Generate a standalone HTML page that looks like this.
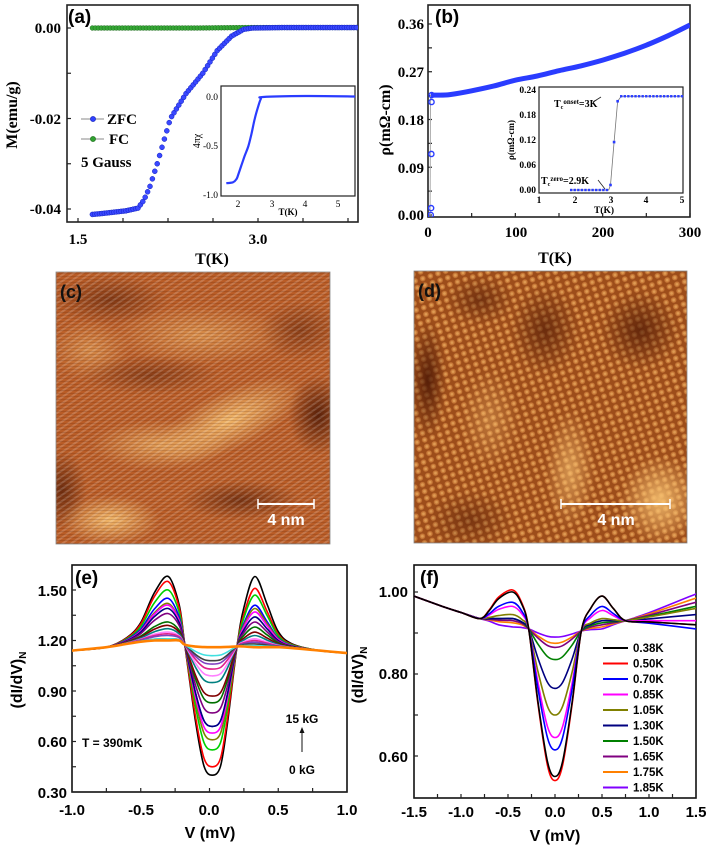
<!DOCTYPE html>
<html><head><meta charset="utf-8"><style>
html,body{margin:0;padding:0;background:#fff;}
svg{display:block;}
.ser{font-family:"Liberation Serif",serif;font-weight:bold;}
.san{font-family:"Liberation Sans",sans-serif;font-weight:bold;}
</style></head><body>
<svg id="fig" width="709" height="847" viewBox="0 0 709 847" xmlns="http://www.w3.org/2000/svg">
<defs>
 <clipPath id="clipA"><rect x="67" y="5" width="291" height="217"/></clipPath>
 <clipPath id="clipAi"><rect x="221" y="86" width="134" height="110"/></clipPath>
 <clipPath id="clipB"><rect x="428" y="5" width="262" height="212"/></clipPath>
 <clipPath id="clipE"><rect x="72" y="565" width="275" height="227"/></clipPath>
 <clipPath id="clipF"><rect x="414" y="565" width="282" height="233"/></clipPath>
 <clipPath id="clipC"><rect x="56" y="272" width="274" height="272"/></clipPath>
 <clipPath id="clipD"><rect x="414" y="271" width="273" height="272"/></clipPath>
 <pattern id="stripes" width="5" height="5" patternUnits="userSpaceOnUse" patternTransform="rotate(-35)">
  <rect width="5" height="2" fill="#fff" opacity="0.18"/>
 </pattern>
 <pattern id="hlines" width="4" height="3" patternUnits="userSpaceOnUse">
  <rect width="4" height="1" fill="#5a2008" opacity="0.18"/>
 </pattern>
 <pattern id="lattice" width="8" height="7" patternUnits="userSpaceOnUse" patternTransform="rotate(-18)">
  <rect width="8" height="7" fill="#6a2a08" opacity="0.4"/>
  <circle cx="4" cy="3.5" r="2.8" fill="#e89a50" opacity="0.55"/>
  <circle cx="4" cy="3.5" r="1.4" fill="#f6c070" opacity="0.5"/>
 </pattern>
 <radialGradient id="bright"><stop offset="0" stop-color="#f6c070" stop-opacity="0.9"/><stop offset="1" stop-color="#f6c070" stop-opacity="0"/></radialGradient>
 <radialGradient id="dark"><stop offset="0" stop-color="#4a1604" stop-opacity="0.85"/><stop offset="1" stop-color="#4a1604" stop-opacity="0"/></radialGradient>
</defs>

<!-- Panel (a) static -->
<g>
 <rect x="67" y="5" width="291" height="217" fill="none" stroke="#222" stroke-width="1.6"/>
 <text x="68" y="23" class="san" font-size="19">(a)</text>
 <g class="ser" font-size="15" text-anchor="end">
  <text x="61" y="33">0.00</text><text x="61" y="124">-0.02</text><text x="61" y="214">-0.04</text>
 </g>
 <g class="ser" font-size="15" text-anchor="middle">
  <text x="78" y="244">1.5</text><text x="258" y="244">3.0</text>
 </g>
 <text x="212" y="264" class="ser" font-size="16" text-anchor="middle">T(K)</text>
 <text transform="translate(17,115) rotate(-90)" class="ser" font-size="16" text-anchor="middle">M(emu/g)</text>
 <g>
  <line x1="81" y1="119" x2="104" y2="119" stroke="#888" stroke-width="1"/><circle cx="93" cy="119" r="2.6" fill="#3040ff" stroke="#1020b0" stroke-width="0.6"/>
  <text x="107" y="124" class="ser" font-size="15">ZFC</text>
  <line x1="81" y1="139" x2="104" y2="139" stroke="#888" stroke-width="1"/><circle cx="93" cy="139" r="2.6" fill="#30a030" stroke="#1a6a1a" stroke-width="0.6"/>
  <text x="109" y="144" class="ser" font-size="15">FC</text>
  <text x="81" y="167" class="ser" font-size="15">5 Gauss</text>
 </g>
 <rect x="221" y="86" width="134" height="110" fill="#fff" stroke="#222" stroke-width="1.2"/>
 <g font-family="Liberation Serif,serif" font-size="9.5" text-anchor="end">
  <text x="218" y="100">0.0</text><text x="218" y="149">-0.5</text><text x="218" y="198">-1.0</text>
 </g>
 <g font-family="Liberation Serif,serif" font-size="9.5" text-anchor="middle">
  <text x="238" y="207">2</text><text x="272" y="207">3</text><text x="305" y="207">4</text><text x="338" y="207">5</text>
 </g>
 <text x="288" y="215" class="ser" font-size="9" text-anchor="middle">T(K)</text>
 <text transform="translate(200,141) rotate(-90)" font-family="Liberation Serif,serif" font-size="10" text-anchor="middle">4πχ</text>
</g>

<!-- Panel (b) static -->
<g>
 <rect x="428" y="5" width="262" height="212" fill="none" stroke="#222" stroke-width="1.6"/>
 <text x="435" y="23" class="san" font-size="19">(b)</text>
 <g class="ser" font-size="15" text-anchor="end">
  <text x="424" y="29">0.36</text><text x="424" y="77">0.27</text><text x="424" y="125">0.18</text><text x="424" y="173">0.09</text><text x="424" y="220">0.00</text>
 </g>
 <g class="ser" font-size="15" text-anchor="middle">
  <text x="428" y="237">0</text><text x="516" y="237">100</text><text x="603" y="237">200</text><text x="690" y="237">300</text>
 </g>
 <text x="555" y="263" class="ser" font-size="16" text-anchor="middle">T(K)</text>
 <text transform="translate(390,120) rotate(-90)" class="ser" font-size="16" text-anchor="middle">ρ(mΩ-cm)</text>
 <rect x="539" y="87" width="144" height="106" fill="#fff" stroke="#222" stroke-width="1.2"/>
 <g class="ser" font-size="9.5" text-anchor="end">
  <text x="536" y="93">0.24</text><text x="536" y="118">0.18</text><text x="536" y="143">0.12</text><text x="536" y="168">0.06</text><text x="536" y="193">0.00</text>
 </g>
 <g class="ser" font-size="9.5" text-anchor="middle">
  <text x="539" y="203">1</text><text x="575" y="203">2</text><text x="611" y="203">3</text><text x="646" y="203">4</text><text x="682" y="203">5</text>
 </g>
 <text x="604" y="213" class="ser" font-size="9.5" text-anchor="middle">T(K)</text>
 <text transform="translate(514,140) rotate(-90)" class="ser" font-size="9" text-anchor="middle">ρ(mΩ-cm)</text>
 <text x="554" y="107" class="ser" font-size="10">T<tspan font-size="6" dy="2">c</tspan><tspan font-size="7" dy="-5">onset</tspan><tspan dy="3">=3K</tspan></text>
 <line x1="593" y1="102" x2="601" y2="97" stroke="#222" stroke-width="0.8"/>
 <text x="541" y="184" class="ser" font-size="10">T<tspan font-size="6" dy="2">c</tspan><tspan font-size="7" dy="-5">zero</tspan><tspan dy="3">=2.9K</tspan></text>
 <line x1="598" y1="180" x2="605" y2="189" stroke="#222" stroke-width="0.8"/>
</g>

<!-- Panel (c) STM -->
<g>
 <g clip-path="url(#clipC)">
 <rect x="56" y="272" width="274" height="272" fill="#b95c26"/>
 <ellipse cx="110" cy="300" rx="60" ry="25" fill="url(#dark)" opacity="0.6"/>
 <ellipse cx="200" cy="335" rx="90" ry="30" fill="url(#bright)" opacity="0.55"/>
 <ellipse cx="90" cy="350" rx="40" ry="30" fill="url(#bright)" opacity="0.5"/>
 <ellipse cx="230" cy="420" rx="80" ry="30" fill="url(#bright)" transform="rotate(-25 230 420)"/>
 <ellipse cx="160" cy="445" rx="70" ry="25" fill="url(#bright)" opacity="0.7"/>
 <ellipse cx="318" cy="415" rx="30" ry="40" fill="url(#dark)"/>
 <ellipse cx="62" cy="490" rx="25" ry="40" fill="url(#dark)" opacity="0.8"/>
 <ellipse cx="150" cy="375" rx="70" ry="20" fill="url(#dark)" opacity="0.5"/>
 <ellipse cx="110" cy="520" rx="50" ry="25" fill="url(#bright)"/>
 <ellipse cx="240" cy="500" rx="60" ry="20" fill="url(#dark)" opacity="0.7"/>
 <ellipse cx="300" cy="330" rx="40" ry="30" fill="url(#dark)" opacity="0.5"/>
 <rect x="56" y="272" width="274" height="272" fill="url(#stripes)"/>
 <rect x="56" y="272" width="274" height="272" fill="url(#hlines)"/>
 </g>
 <rect x="56" y="272" width="274" height="272" fill="none" stroke="#888" stroke-width="0.8"/>
 <text x="60" y="298" class="san" font-size="18" fill="#111">(c)</text>
 <line x1="258" y1="504" x2="314" y2="504" stroke="#fff" stroke-width="2"/>
 <line x1="258" y1="499" x2="258" y2="509" stroke="#fff" stroke-width="1.5"/><line x1="314" y1="499" x2="314" y2="509" stroke="#fff" stroke-width="1.5"/>
 <text x="286" y="525" class="san" font-size="16" fill="#fff" text-anchor="middle">4 nm</text>
</g>

<!-- Panel (d) STM -->
<g>
 <g clip-path="url(#clipD)">
 <rect x="414" y="271" width="273" height="272" fill="#c06426"/>
 <rect x="414" y="271" width="273" height="272" fill="url(#lattice)"/>
 <ellipse cx="428" cy="380" rx="18" ry="60" fill="url(#dark)"/>
 <ellipse cx="480" cy="300" rx="35" ry="25" fill="url(#dark)" opacity="0.6"/>
 <ellipse cx="545" cy="330" rx="35" ry="45" fill="url(#dark)" opacity="0.7"/>
 <ellipse cx="640" cy="330" rx="40" ry="40" fill="url(#dark)" opacity="0.8"/>
 <ellipse cx="470" cy="520" rx="45" ry="30" fill="url(#dark)" opacity="0.5"/>
 <ellipse cx="660" cy="500" rx="40" ry="45" fill="url(#bright)"/>
 <ellipse cx="570" cy="470" rx="25" ry="60" fill="url(#bright)" opacity="0.7"/>
 <ellipse cx="490" cy="420" rx="30" ry="50" fill="url(#bright)" opacity="0.4"/>
 </g>
 <rect x="414" y="271" width="273" height="272" fill="none" stroke="#888" stroke-width="0.8"/>
 <text x="418" y="297" class="san" font-size="18" fill="#111">(d)</text>
 <line x1="561" y1="504" x2="670" y2="504" stroke="#fff" stroke-width="2"/>
 <line x1="561" y1="499" x2="561" y2="509" stroke="#fff" stroke-width="1.5"/><line x1="670" y1="499" x2="670" y2="509" stroke="#fff" stroke-width="1.5"/>
 <text x="616" y="525" class="san" font-size="16" fill="#fff" text-anchor="middle">4 nm</text>
</g>

<!-- Panel (e) static -->
<g>
 <rect x="72" y="565" width="275" height="227" fill="none" stroke="#111" stroke-width="1.6"/>
 <text x="75" y="584" class="san" font-size="19">(e)</text>
 <g class="san" font-size="15" text-anchor="end">
  <text x="67" y="596">1.50</text><text x="67" y="646">1.20</text><text x="67" y="697">0.90</text><text x="67" y="747">0.60</text><text x="67" y="798">0.30</text>
 </g>
 <g class="san" font-size="15" text-anchor="middle">
  <text x="72" y="815">-1.0</text><text x="141" y="815">-0.5</text><text x="209" y="815">0.0</text><text x="278" y="815">0.5</text><text x="347" y="815">1.0</text>
 </g>
 <text x="210" y="838" class="san" font-size="16" text-anchor="middle">V (mV)</text>
 <text transform="translate(22,680) rotate(-90)" class="san" font-size="16" text-anchor="middle">(dI/dV)<tspan font-size="10" dy="4">N</tspan></text>
 <text x="82" y="747" class="san" font-size="12">T = 390mK</text>
 <text x="302" y="723" class="san" font-size="12" text-anchor="middle">15 kG</text>
 <line x1="302" y1="752" x2="302" y2="731" stroke="#111" stroke-width="1"/>
 <polygon points="302,727 299.5,733 304.5,733" fill="#111"/>
 <text x="302" y="774" class="san" font-size="12" text-anchor="middle">0 kG</text>
</g>

<!-- Panel (f) static -->
<g>
 <rect x="414" y="565" width="282" height="233" fill="none" stroke="#111" stroke-width="1.6"/>
 <text x="420" y="584" class="san" font-size="19">(f)</text>
 <g class="san" font-size="15" text-anchor="end">
  <text x="408" y="597">1.00</text><text x="408" y="679">0.80</text><text x="408" y="762">0.60</text>
 </g>
 <g class="san" font-size="15" text-anchor="middle">
  <text x="414" y="817">-1.5</text><text x="461" y="817">-1.0</text><text x="508" y="817">-0.5</text><text x="555" y="817">0.0</text><text x="602" y="817">0.5</text><text x="649" y="817">1.0</text><text x="696" y="817">1.5</text>
 </g>
 <text x="555" y="841" class="san" font-size="16" text-anchor="middle">V (mV)</text>
 <text transform="translate(363,675) rotate(-90)" class="san" font-size="16" text-anchor="middle">(dI/dV)<tspan font-size="10" dy="4">N</tspan></text>
</g>
<g id="dyn"></g>
</svg>
<script>
// ---- Panel (a) data ----
const zfcT = [1.62,1.7,1.8,1.9,2.0,2.05,2.1,2.16,2.27,2.4,2.54,2.66,2.78,2.88,2.95,3.2,3.5,3.83];
const zfcM = [-0.0412,-0.0410,-0.0407,-0.0404,-0.0398,-0.038,-0.035,-0.030,-0.020,-0.0145,-0.010,-0.005,-0.0018,-0.0003,0,0.0001,0.0001,0.0001];
const fcT = [1.62,2.0,2.5,2.9,3.3,3.83];
const fcM = [0.0000,0.0000,0.0000,0.0001,0.0001,0.0001];
const insetT = [1.65,1.85,1.95,2.0,2.1,2.2,2.31,2.4,2.5,2.6,2.68,2.75,4.0,5.5];
const insetChi = [-0.88,-0.87,-0.84,-0.80,-0.70,-0.60,-0.50,-0.38,-0.22,-0.10,-0.02,0.0,0.01,0.005];
// ---- Panel (b) data ----
const rhoT = [2.0,2.4,2.7,2.9,3,5,10,25,50,75,100,125,150,175,200,225,250,275,300];
const rho = [0.0,0.013,0.115,0.213,0.226,0.226,0.226,0.227,0.234,0.243,0.254,0.262,0.272,0.281,0.292,0.305,0.32,0.338,0.358];
const rhoInsetT = [1.9,2.0,2.2,2.4,2.8,2.95,3.0,3.1,3.2,3.3,3.5,4.0,4.5,5.0];
const rhoInset = [0,0,0,0,0,0,0.012,0.115,0.213,0.225,0.225,0.225,0.225,0.225];
// ---- Panel (e) data: one entry per field ----
const eColors = ['#000000','#ff0000','#00d000','#0000ff','#808000','#ff00ff','#000080','#800080','#007000','#800000','#008080','#ff80ff','#e0208a','#8040c0','#404040','#40e0e0','#ff8000'];
const ePeakLeft = [1.58,1.55,1.50,1.45,1.42,1.41,1.39,1.36,1.31,1.29,1.27,1.25,1.24,1.23,1.21,1.21,1.20];
const eZeroBias = [0.40,0.45,0.55,0.69,0.61,0.65,0.69,0.77,0.83,0.87,0.95,0.99,1.03,1.06,1.08,1.11,1.16];
const ePeakRight = [1.58,1.51,1.47,1.41,1.39,1.37,1.34,1.31,1.28,1.25,1.23,1.21,1.20,1.19,1.18,1.17,1.16];
// ---- Panel (f) data: one entry per temperature ----
const fLabels = ['0.38K','0.50K','0.70K','0.85K','1.05K','1.30K','1.50K','1.65K','1.75K','1.85K'];
const fColors = ['#000000','#ff0000','#0000ff','#ff00ff','#808000','#000080','#008000','#800080','#ff8000','#8000ff'];
const fPeakLeft = [1.00,1.005,0.975,0.965,0.945,0.935,0.935,0.93,0.925,0.915];
const fZeroBias = [0.55,0.54,0.615,0.645,0.70,0.765,0.835,0.865,0.875,0.89];
const fPeakRight = [0.99,0.99,0.965,0.955,0.935,0.93,0.925,0.92,0.915,0.91];
const fEndRight = [0.92,0.92,0.91,0.93,0.96,0.945,0.965,0.975,0.985,0.995];

const NS='http://www.w3.org/2000/svg';
const root=document.getElementById('dyn');
function mk(tag,parent,attrs){const e=document.createElementNS(NS,tag);for(const k in attrs)e.setAttribute(k,attrs[k]);parent.appendChild(e);return e;}
function spline(pts){let d='M'+pts[0][0].toFixed(1)+','+pts[0][1].toFixed(1);
 for(let i=0;i<pts.length-1;i++){const p0=pts[i-1]||pts[i],p1=pts[i],p2=pts[i+1],p3=pts[i+2]||p2;
  const c1=[p1[0]+(p2[0]-p0[0])/6,p1[1]+(p2[1]-p0[1])/6],c2=[p2[0]-(p3[0]-p1[0])/6,p2[1]-(p3[1]-p1[1])/6];
  d+=' C'+c1[0].toFixed(1)+','+c1[1].toFixed(1)+' '+c2[0].toFixed(1)+','+c2[1].toFixed(1)+' '+p2[0].toFixed(1)+','+p2[1].toFixed(1);}
 return d;}
function interp(xs,ys,x){if(x<=xs[0])return ys[0];for(let i=0;i<xs.length-1;i++){if(x<=xs[i+1]){const t=(x-xs[i])/(xs[i+1]-xs[i]);return ys[i]+t*(ys[i+1]-ys[i]);}}return ys[ys.length-1];}

const xa=t=>78+(t-1.5)*120, ya=m=>28-m*4525;
const xai=t=>238+(t-2)*33.5, yai=v=>97-v*98;
const xb=t=>428+t*0.8733, yb=r=>215-r*530.6;
const xbi=t=>539+(t-1)*35.75, ybi=r=>190-r*416.7;
const xe=v=>209.5+v*137.5, ye=v=>792-(v-0.30)*168.33;
const xf=v=>555+v*94, yf=v=>592+(1-v)*410;

function ticks(parent,list,fn,axis,fixed,len){list.forEach(v=>{const p=fn(v);
 if(axis==='x')mk('line',parent,{x1:p,x2:p,y1:fixed,y2:fixed-len,stroke:'#222','stroke-width':1.2});
 else mk('line',parent,{x1:fixed,x2:fixed+len,y1:p,y2:p,stroke:'#222','stroke-width':1.2});});}
const tg=mk('g',root,{});


ticks(tg,[1.5,1.875,2.25,2.625,3.0,3.375,3.75],xa,'x',222,4);
ticks(tg,[0,-0.01,-0.02,-0.03,-0.04],ya,'y',67,4);
ticks(tg,[0,50,100,150,200,250,300],xb,'x',217,4);
ticks(tg,[0,0.045,0.09,0.135,0.18,0.225,0.27,0.315,0.36],yb,'y',428,4);
ticks(tg,[-1,-0.75,-0.5,-0.25,0,0.25,0.5,0.75,1],xe,'x',792,4);
ticks(tg,[0.3,0.45,0.6,0.75,0.9,1.05,1.2,1.35,1.5],ye,'y',72,4);
ticks(tg,[-1.5,-1.25,-1,-0.75,-0.5,-0.25,0,0.25,0.5,0.75,1,1.25,1.5],xf,'x',798,4);
ticks(tg,[0.6,0.7,0.8,0.9,1.0],yf,'y',414,4);

const ga=mk('g',root,{'clip-path':'url(#clipA)'});


const fcG=mk('g',ga,{});


for(let t=fcT[0];t<=fcT[fcT.length-1];t+=0.025){mk('circle',fcG,{cx:xa(t),cy:ya(interp(fcT,fcM,t)),r:2.4,fill:'#36a836',stroke:'#1a6a1a','stroke-width':0.5});}
const zG=mk('g',ga,{});


for(let t=zfcT[0];t<=zfcT[zfcT.length-1];t+=0.02){const m=interp(zfcT,zfcM,t);mk('circle',zG,{cx:xa(t),cy:ya(m),r:2.5,fill:'#3a48ff',stroke:'#1020c0','stroke-width':0.5});}
const gai=mk('g',root,{'clip-path':'url(#clipAi)'});


const chiPath=mk('path',gai,{d:spline(insetT.map((t,i)=>[xai(t),yai(insetChi[i])])),fill:'none',stroke:'#2a3cff','stroke-width':2.2});



const gb=mk('g',root,{'clip-path':'url(#clipB)'});


const band=mk('path',gb,{d:spline(rhoT.slice(4).map((t,i)=>[xb(t),yb(rho[i+4])])),fill:'none',stroke:'#2a3cff','stroke-width':5});


mk('line',gb,{x1:xb(2.4),y1:yb(0),x2:xb(2.9),y2:yb(0.226),stroke:'#aaa','stroke-width':1});
for(let i=0;i<5;i++){const c=mk('circle',gb,{cx:xb(rhoT[i])+1,cy:yb(rho[i]),r:2.6,fill:'none',stroke:'#2a3cff','stroke-width':1.4});
 
 }
const gbi=mk('g',root,{});


mk('polyline',gbi,{points:rhoInsetT.map((t,i)=>xbi(t)+','+ybi(rhoInset[i])).join(' '),fill:'none',stroke:'#777','stroke-width':0.8});
for(let t=1.9;t<=5.0;t+=0.1){const v=interp(rhoInsetT,rhoInset,t);if(t>2.95&&t<3.25)continue;mk('rect',gbi,{x:xbi(t)-1.2,y:ybi(v)-1.2,width:2.4,height:2.4,fill:'#2a3cff'});}
rhoInsetT.forEach((t,i)=>{if(t>=3.0&&t<=3.2)mk('rect',gbi,{x:xbi(t)-1.3,y:ybi(rhoInset[i])-1.3,width:2.6,height:2.6,fill:'#2a3cff'});});

function eShape(Lp,m,Rp){return [[-1.05,1.135],[-1,1.14],[-0.75,1.16],[-0.6,1.18+(Lp-1.2)*0.1],[-0.5,1.19+(Lp-1.19)*0.3],[-0.4,1.2+(Lp-1.2)*0.75],[-0.3,Lp],[-0.22,1.2+(Lp-1.2)*0.55],[-0.18,1.175],[-0.1,1.17-(1.17-m)*0.6],[-0.04,1.17-(1.17-m)*0.93],[0.02,m],[0.08,1.165-(1.165-m)*0.93],[0.13,1.165-(1.165-m)*0.6],[0.2,1.165],[0.25,1.17+(Rp-1.17)*0.55],[0.33,Rp],[0.42,1.16+(Rp-1.16)*0.6],[0.5,1.16+(Rp-1.16)*0.22],[0.6,1.155+(Rp-1.16)*0.06],[0.8,1.14],[1.0,1.125],[1.05,1.122]];}
const ge=mk('g',root,{'clip-path':'url(#clipE)'});


eColors.forEach((c,i)=>{const pts=eShape(ePeakLeft[i],eZeroBias[i],ePeakRight[i]).map(p=>[xe(p[0]),ye(p[1])]);
 const p=mk('path',ge,{d:spline(pts),fill:'none',stroke:c,'stroke-width':i===eColors.length-1?2.6:1.6});
 
 });

function fShape(Lp,m,Rp,E){return [[-1.55,0.995],[-1.5,0.99],[-1.2,0.965],[-1.0,0.95],[-0.8,0.935],[-0.7,0.935+(Lp-0.935)*0.3],[-0.6,0.935+(Lp-0.935)*0.75],[-0.45,Lp],[-0.35,0.91+(Lp-0.91)*0.65],[-0.28,0.91],[-0.18,0.91-(0.91-m)*0.5],[-0.08,0.91-(0.91-m)*0.9],[0.0,m],[0.08,0.905-(0.905-m)*0.9],[0.18,0.905-(0.905-m)*0.5],[0.28,0.905],[0.38,0.905+(Rp-0.905)*0.65],[0.5,Rp],[0.62,0.93+(Rp-0.93)*0.5],[0.75,0.93],[1.0,0.93+(E-0.93)*0.3],[1.5,E],[1.55,E]];}
const gf=mk('g',root,{'clip-path':'url(#clipF)'});


for(let i=fColors.length-1;i>=0;i--){const pts=fShape(fPeakLeft[i],fZeroBias[i],fPeakRight[i],fEndRight[i]).map(p=>[xf(p[0]),yf(p[1])]);
 const p=mk('path',gf,{d:spline(pts),fill:'none',stroke:fColors[i],'stroke-width':1.6});
 
 }
const lg=mk('g',root,{});


fLabels.forEach((l,i)=>{const y=648+i*15.5;
 mk('line',lg,{x1:603,x2:628,y1:y,y2:y,stroke:fColors[i],'stroke-width':2});
 const t=mk('text',lg,{x:633,y:y+4,'font-family':'Liberation Sans,sans-serif','font-weight':'bold','font-size':11.5});
 t.textContent=l;
 
 });
</script>
</body></html>
